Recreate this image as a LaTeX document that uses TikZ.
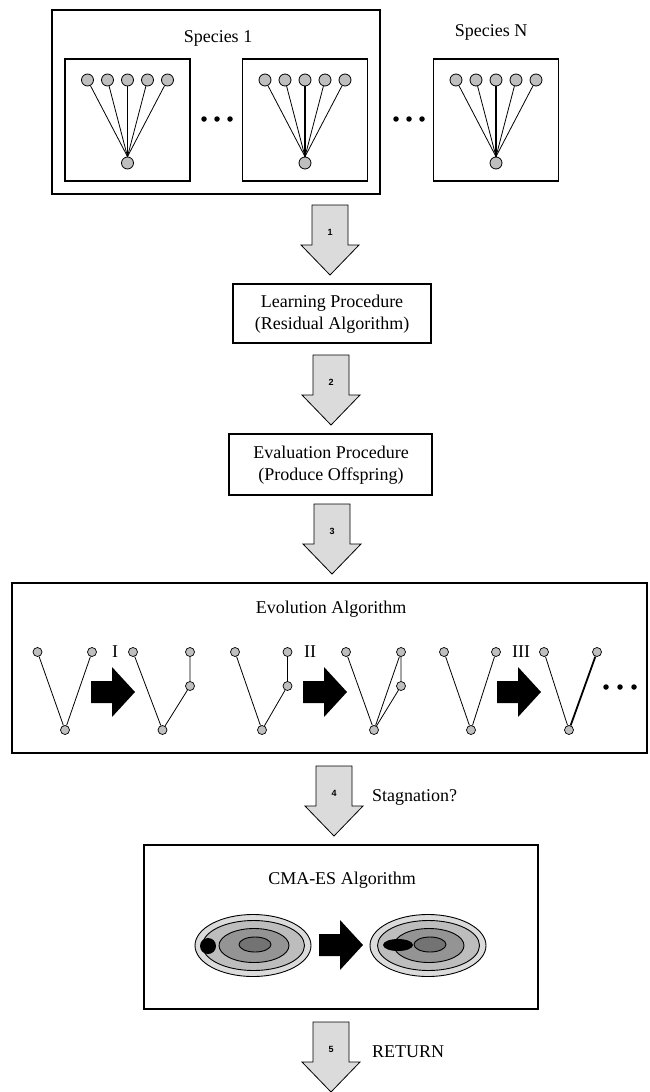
\documentclass[tikz,border=0pt]{standalone}
\usepackage{fontspec}
\setmainfont{Liberation Serif}
\newfontfamily\numfont{Liberation Sans}
\usetikzlibrary{shapes.geometric}
\definecolor{ringA}{gray}{0.86}
\definecolor{ringB}{gray}{0.74}
\definecolor{ringC}{gray}{0.58}
\definecolor{ringD}{gray}{0.45}
\begin{document}
\begin{tikzpicture}[x=1pt,y=-1pt,
  box/.style={draw, line width=1.5pt, inner sep=0pt},
  ibox/.style={draw, line width=1.3pt, inner sep=0pt, minimum width=125pt, minimum height=122pt},
  fnode/.style={circle, draw, fill=gray!50, minimum size=12pt, inner sep=0pt, line width=0.8pt},
  enode/.style={circle, draw, fill=gray!50, minimum size=9pt, inner sep=0pt, line width=0.7pt},
  dotn/.style={circle, fill=black, minimum size=5.5pt, inner sep=0pt},
  txt/.style={font=\fontsize{18}{22}\selectfont, align=center, inner sep=0pt},
  edge/.style={line width=0.8pt},
  blockarr/.style={draw, fill=gray!28, line width=0.8pt, line join=miter},
  numlbl/.style={font=\numfont\bfseries\fontsize{9}{10}\selectfont, inner sep=0pt},
  bigarr/.style={fill=black},
  ring/.style={draw, line width=0.9pt}]
\useasboundingbox (0,0) rectangle (650,1092);
\fill[white] (0,0) rectangle (650,1092);

% ---------- species ----------
\node[box, minimum width=328pt, minimum height=184pt] (sp1) at (216,102) {};
\node[txt] (sp1lbl) at (218,38) {Species 1};
\node[txt] (spNlbl) at (491,32) {Species N};

\foreach \nm/\cx in {a/127.5, b/305, c/496}{
  \node[ibox] (box\nm) at (\cx,120) {};
  \node[fnode] (\nm b) at (\cx,163) {};
  \foreach \k/\dx in {1/-40,2/-20,3/0,4/20,5/40}{
    \node[fnode] (\nm t\k) at (\cx+\dx,80) {};
  }
  \foreach \k in {1,2,4,5}{ \draw[edge] (\nm b.north) -- (\nm t\k); }
  \draw[line width=1.3pt] (\nm b.north) -- (\nm t3);
}
\foreach \k/\x in {1/204,2/217,3/230,4/396,5/409,6/422}{
  \node[dotn] (sd\k) at (\x,119) {};
}

% ---------- block arrows ----------
\newcommand{\blockarrow}[4]{% name, x, ytop, label
  \path[blockarr] (#2-18,#3) -- (#2+18,#3) -- (#2+18,#3+40) -- (#2+29,#3+40)
     -- (#2,#3+70) -- (#2-29,#3+40) -- (#2-18,#3+40) -- cycle;
  \node[numlbl] (#1) at (#2,#3+27) {#4};
}
\blockarrow{ar1}{330}{205}{1}
\blockarrow{ar2}{331}{355}{2}
\blockarrow{ar3}{332}{504}{3}
\blockarrow{ar4}{334}{766}{4}
\blockarrow{ar5}{331}{1022}{5}
\node[txt, anchor=west] (stag) at (372,797) {Stagnation?};
\node[txt, anchor=west] (ret) at (372,1052) {RETURN};

% ---------- learning / evaluation ----------
\node[box, minimum width=198pt, minimum height=59pt] (learn) at (332,313.5) {};
\node[txt] (learnt) at (332,314) {Learning Procedure\\(Residual Algorithm)};
\node[box, minimum width=203pt, minimum height=61pt] (evalb) at (330.5,464.5) {};
\node[txt] (evalt) at (331,465) {Evaluation Procedure\\(Produce Offspring)};

% ---------- evolution ----------
\node[box, minimum width=635pt, minimum height=170pt] (evo) at (329.5,668) {};
\node[txt] (evot) at (331,609) {Evolution Algorithm};

\newcommand{\bigarrow}[3]{% name, xstart, ycenter
  \fill[bigarr] (#2,#3-11) -- (#2+21,#3-11) -- (#2+21,#3-25) -- (#2+44,#3)
     -- (#2+21,#3+25) -- (#2+21,#3+11) -- (#2,#3+11) -- cycle;
  \coordinate (#1) at (#2+22,#3);
}
% graph A1
\node[enode] (a1l) at (37.5,652) {};
\node[enode] (a1r) at (92,652) {};
\node[enode] (a1b) at (65,730) {};
\draw[edge] (a1l) -- (a1b) -- (a1r);
\node[txt] (lI) at (115,652) {I};
\bigarrow{bA}{91}{692}
% graph A2
\node[enode] (a2l) at (133,652) {};
\node[enode] (a2r) at (190,652) {};
\node[enode] (a2m) at (190,686) {};
\node[enode] (a2b) at (162.5,730) {};
\draw[edge] (a2l) -- (a2b) -- (a2m) -- (a2r);
% graph B1
\node[enode] (b1l) at (235,652) {};
\node[enode] (b1r) at (287.5,652) {};
\node[enode] (b1m) at (287.5,686) {};
\node[enode] (b1b) at (262,730) {};
\draw[edge] (b1l) -- (b1b) -- (b1m) -- (b1r);
\node[txt] (lII) at (310,652) {II};
\bigarrow{bB}{303}{692}
% graph B2
\node[enode] (b2l) at (346,652) {};
\node[enode] (b2r) at (401,652) {};
\node[enode] (b2m) at (401,686) {};
\node[enode] (b2b) at (374,730) {};
\draw[edge] (b2l) -- (b2b) -- (b2m) -- (b2r);
\draw[edge] (b2b) -- (b2r);
% graph C1
\node[enode] (c1l) at (444,652) {};
\node[enode] (c1r) at (496,652) {};
\node[enode] (c1b) at (471,730) {};
\draw[edge] (c1l) -- (c1b) -- (c1r);
\node[txt] (lIII) at (521,652) {III};
\bigarrow{bC}{497}{692}
% graph C2
\node[enode] (c2l) at (544,652) {};
\node[enode] (c2r) at (597,652) {};
\node[enode] (c2b) at (569,730) {};
\draw[edge] (c2l) -- (c2b);
\draw[line width=1.8pt] (c2b) -- (c2r);
\foreach \k/\x in {1/606,2/620,3/634}{
  \node[dotn] (ed\k) at (\x,687) {};
}

% ---------- CMA-ES ----------
\node[box, minimum width=394pt, minimum height=164pt] (cma) at (341,927) {};
\node[txt] (cmat) at (342,880) {CMA-ES Algorithm};
\foreach \cx/\ix in {253/255,428/430}{
  \path[ring, fill=ringA] (\cx,945.5) ellipse [x radius=58pt, y radius=31pt];
  \path[ring, fill=ringB] (\cx+0.5,945.5) ellipse [x radius=51pt, y radius=25pt];
  \path[ring, fill=ringC] (\ix-1,945.5) ellipse [x radius=35pt, y radius=17pt];
  \path[ring, fill=ringD] (\ix,944.5) ellipse [x radius=16pt, y radius=7.5pt];
}
\node[circle, fill=black, minimum size=16pt, inner sep=0pt] (pt1) at (208,946) {};
\node[ellipse, fill=black, minimum width=30pt, minimum height=12pt, inner sep=0pt] (pt2) at (398,945) {};
\bigarrow{bD}{319}{945}
\end{tikzpicture}
\end{document}
